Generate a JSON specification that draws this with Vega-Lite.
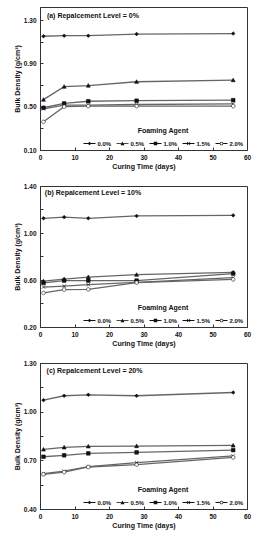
{
  "$schema": "https://vega.github.io/schema/vega-lite/v6.json",
  "background": "white",
  "padding": {"left": 12, "top": 6, "right": 5, "bottom": 3},
  "spacing": 12,
  "data": {"values": [
    {"p":"a","agent":"0.0%","day":1,"d":1.150},{"p":"a","agent":"0.0%","day":7,"d":1.155},{"p":"a","agent":"0.0%","day":14,"d":1.155},{"p":"a","agent":"0.0%","day":28,"d":1.170},{"p":"a","agent":"0.0%","day":56,"d":1.175},
    {"p":"a","agent":"0.5%","day":1,"d":0.565},{"p":"a","agent":"0.5%","day":7,"d":0.685},{"p":"a","agent":"0.5%","day":14,"d":0.695},{"p":"a","agent":"0.5%","day":28,"d":0.730},{"p":"a","agent":"0.5%","day":56,"d":0.745},
    {"p":"a","agent":"1.0%","day":1,"d":0.490},{"p":"a","agent":"1.0%","day":7,"d":0.530},{"p":"a","agent":"1.0%","day":14,"d":0.550},{"p":"a","agent":"1.0%","day":28,"d":0.555},{"p":"a","agent":"1.0%","day":56,"d":0.560},
    {"p":"a","agent":"1.5%","day":1,"d":0.480},{"p":"a","agent":"1.5%","day":7,"d":0.515},{"p":"a","agent":"1.5%","day":14,"d":0.515},{"p":"a","agent":"1.5%","day":28,"d":0.520},{"p":"a","agent":"1.5%","day":56,"d":0.525},
    {"p":"a","agent":"2.0%","day":1,"d":0.360},{"p":"a","agent":"2.0%","day":7,"d":0.500},{"p":"a","agent":"2.0%","day":14,"d":0.505},{"p":"a","agent":"2.0%","day":28,"d":0.505},{"p":"a","agent":"2.0%","day":56,"d":0.505},
    {"p":"b","agent":"0.0%","day":1,"d":1.125},{"p":"b","agent":"0.0%","day":7,"d":1.135},{"p":"b","agent":"0.0%","day":14,"d":1.125},{"p":"b","agent":"0.0%","day":28,"d":1.145},{"p":"b","agent":"0.0%","day":56,"d":1.150},
    {"p":"b","agent":"0.5%","day":1,"d":0.590},{"p":"b","agent":"0.5%","day":7,"d":0.608},{"p":"b","agent":"0.5%","day":14,"d":0.625},{"p":"b","agent":"0.5%","day":28,"d":0.645},{"p":"b","agent":"0.5%","day":56,"d":0.665},
    {"p":"b","agent":"1.0%","day":1,"d":0.575},{"p":"b","agent":"1.0%","day":7,"d":0.595},{"p":"b","agent":"1.0%","day":14,"d":0.595},{"p":"b","agent":"1.0%","day":28,"d":0.595},{"p":"b","agent":"1.0%","day":56,"d":0.655},
    {"p":"b","agent":"1.5%","day":1,"d":0.540},{"p":"b","agent":"1.5%","day":7,"d":0.548},{"p":"b","agent":"1.5%","day":14,"d":0.560},{"p":"b","agent":"1.5%","day":28,"d":0.580},{"p":"b","agent":"1.5%","day":56,"d":0.620},
    {"p":"b","agent":"2.0%","day":1,"d":0.490},{"p":"b","agent":"2.0%","day":7,"d":0.518},{"p":"b","agent":"2.0%","day":14,"d":0.520},{"p":"b","agent":"2.0%","day":28,"d":0.578},{"p":"b","agent":"2.0%","day":56,"d":0.605},
    {"p":"c","agent":"0.0%","day":1,"d":1.071},{"p":"c","agent":"0.0%","day":7,"d":1.098},{"p":"c","agent":"0.0%","day":14,"d":1.104},{"p":"c","agent":"0.0%","day":28,"d":1.098},{"p":"c","agent":"0.0%","day":56,"d":1.118},
    {"p":"c","agent":"0.5%","day":1,"d":0.767},{"p":"c","agent":"0.5%","day":7,"d":0.780},{"p":"c","agent":"0.5%","day":14,"d":0.786},{"p":"c","agent":"0.5%","day":28,"d":0.788},{"p":"c","agent":"0.5%","day":56,"d":0.792},
    {"p":"c","agent":"1.0%","day":1,"d":0.722},{"p":"c","agent":"1.0%","day":7,"d":0.731},{"p":"c","agent":"1.0%","day":14,"d":0.743},{"p":"c","agent":"1.0%","day":28,"d":0.749},{"p":"c","agent":"1.0%","day":56,"d":0.763},
    {"p":"c","agent":"1.5%","day":1,"d":0.618},{"p":"c","agent":"1.5%","day":7,"d":0.633},{"p":"c","agent":"1.5%","day":14,"d":0.661},{"p":"c","agent":"1.5%","day":28,"d":0.686},{"p":"c","agent":"1.5%","day":56,"d":0.727},
    {"p":"c","agent":"2.0%","day":1,"d":0.614},{"p":"c","agent":"2.0%","day":7,"d":0.627},{"p":"c","agent":"2.0%","day":14,"d":0.659},{"p":"c","agent":"2.0%","day":28,"d":0.673},{"p":"c","agent":"2.0%","day":56,"d":0.718}
  ]},
  "resolve": {"scale": {"shape": "independent", "fill": "independent"}, "legend": {"shape": "independent"}},
  "vconcat": [
    {
      "width": 207, "height": 143,
      "transform": [{"filter": "datum.p == 'a'"}],
      "resolve": {"scale": {"shape": "independent"}, "legend": {"shape": "independent"}},
      "encoding": {
        "x": {"field": "day", "type": "quantitative", "scale": {"domain": [0, 60]}, "axis": {"values": [0,10,20,30,40,50,60], "title": "Curing Time (days)"}},
        "y": {"field": "d", "type": "quantitative", "scale": {"domain": [0.1, 1.42], "nice": false, "zero": false},
              "axis": {"values": [0.1,0.3,0.5,0.7,0.9,1.1,1.3], "labelExpr": "round(datum.value*10) % 4 == 1 ? format(datum.value, '.2f') : ''", "title": "Bulk Density (g/cm³)"}}
      },
      "layer": [
        {"mark": {"type": "line", "color": "#666", "strokeWidth": 1.3}, "encoding": {"detail": {"field": "agent"}}},
        {"mark": {"type": "point", "filled": true, "color": "#111", "size": 144, "opacity": 0},
         "encoding": {
           "shape": {"field": "agent", "type": "nominal", "scale": {"domain": ["0.0%","0.5%","1.0%","1.5%","2.0%"], "range": ["M-1,-0.08H1V0.08H-1ZM0,-0.3L0.3,0L0,0.3L-0.3,0Z","M-1,-0.08H1V0.08H-1ZM0,-0.34L0.34,0.27L-0.34,0.27Z","M-1,-0.08H1V0.08H-1ZM-0.3,-0.3H0.3V0.3H-0.3Z","M-1,-0.08H1V0.08H-1ZM-0.3,-0.22L-0.22,-0.3L0.3,0.22L0.22,0.3ZM-0.3,0.22L0.22,-0.3L0.3,-0.22L-0.22,0.3Z","M-1,-0.08H-0.3V0.08H-1ZM0.3,-0.08H1V0.08H0.3ZM-0.3,0A0.3,0.3 0 1,0 0.3,0A0.3,0.3 0 1,0 -0.3,0ZM-0.19,0A0.19,0.19 0 1,1 0.19,0A0.19,0.19 0 1,1 -0.19,0Z"]},
             "legend": {"title": "Foaming Agent", "encode": {"symbols": {"opacity": {"value": 1}, "stroke": {"value": "#222"}, "strokeWidth": {"value": 0.8}, "size": {"value": 144}}}}}
         }},
        {"mark": {"type": "point", "filled": true, "size": 13, "stroke": "#111", "strokeWidth": 0.6, "opacity": 1},
         "encoding": {
           "shape": {"field": "agent", "type": "nominal", "scale": {"domain": ["0.0%","0.5%","1.0%","1.5%","2.0%"], "range": ["M0,-1L1,0L0,1L-1,0Z","M0,-1.1L1.1,0.9L-1.1,0.9Z","M-1,-1H1V1H-1Z","M-1,-1L1,1M-1,1L1,-1","M-1,0A1,1 0 1,0 1,0A1,1 0 1,0 -1,0Z"]}, "legend": null},
           "fill": {"field": "agent", "type": "nominal", "scale": {"domain": ["0.0%","0.5%","1.0%","1.5%","2.0%"], "range": ["#111","#111","#111","#111","white"]}, "legend": null}
         }},
        {"transform": [{"filter": "datum.day == 1 && datum.agent == '0.0%'"}], "mark": {"type": "text", "align": "left", "baseline": "middle", "fontSize": 7, "fontWeight": "bold", "color": "#111"},
         "encoding": {"x": {"datum": 2.0}, "y": {"datum": 1.337}, "text": {"value": "(a) Repalcement Level = 0%"}}}
      ]
    },
    {
      "width": 207, "height": 141,
      "transform": [{"filter": "datum.p == 'b'"}],
      "resolve": {"scale": {"shape": "independent"}, "legend": {"shape": "independent"}},
      "encoding": {
        "x": {"field": "day", "type": "quantitative", "scale": {"domain": [0, 60]}, "axis": {"values": [0,10,20,30,40,50,60], "title": "Curing Time (days)"}},
        "y": {"field": "d", "type": "quantitative", "scale": {"domain": [0.2, 1.4], "nice": false, "zero": false},
              "axis": {"values": [0.2,0.4,0.6,0.8,1.0,1.2,1.4], "labelExpr": "round(datum.value*10) % 4 == 2 ? format(datum.value, '.2f') : ''", "title": "Bulk Density (g/cm³)"}}
      },
      "layer": [
        {"mark": {"type": "line", "color": "#666", "strokeWidth": 1.3}, "encoding": {"detail": {"field": "agent"}}},
        {"mark": {"type": "point", "filled": true, "color": "#111", "size": 144, "opacity": 0},
         "encoding": {
           "shape": {"field": "agent", "type": "nominal", "scale": {"domain": ["0.0%","0.5%","1.0%","1.5%","2.0%"], "range": ["M-1,-0.08H1V0.08H-1ZM0,-0.3L0.3,0L0,0.3L-0.3,0Z","M-1,-0.08H1V0.08H-1ZM0,-0.34L0.34,0.27L-0.34,0.27Z","M-1,-0.08H1V0.08H-1ZM-0.3,-0.3H0.3V0.3H-0.3Z","M-1,-0.08H1V0.08H-1ZM-0.3,-0.22L-0.22,-0.3L0.3,0.22L0.22,0.3ZM-0.3,0.22L0.22,-0.3L0.3,-0.22L-0.22,0.3Z","M-1,-0.08H-0.3V0.08H-1ZM0.3,-0.08H1V0.08H0.3ZM-0.3,0A0.3,0.3 0 1,0 0.3,0A0.3,0.3 0 1,0 -0.3,0ZM-0.19,0A0.19,0.19 0 1,1 0.19,0A0.19,0.19 0 1,1 -0.19,0Z"]},
             "legend": {"title": "Foaming Agent", "encode": {"symbols": {"opacity": {"value": 1}, "stroke": {"value": "#222"}, "strokeWidth": {"value": 0.8}, "size": {"value": 144}}}}}
         }},
        {"mark": {"type": "point", "filled": true, "size": 13, "stroke": "#111", "strokeWidth": 0.6, "opacity": 1},
         "encoding": {
           "shape": {"field": "agent", "type": "nominal", "scale": {"domain": ["0.0%","0.5%","1.0%","1.5%","2.0%"], "range": ["M0,-1L1,0L0,1L-1,0Z","M0,-1.1L1.1,0.9L-1.1,0.9Z","M-1,-1H1V1H-1Z","M-1,-1L1,1M-1,1L1,-1","M-1,0A1,1 0 1,0 1,0A1,1 0 1,0 -1,0Z"]}, "legend": null},
           "fill": {"field": "agent", "type": "nominal", "scale": {"domain": ["0.0%","0.5%","1.0%","1.5%","2.0%"], "range": ["#111","#111","#111","#111","white"]}, "legend": null}
         }},
        {"transform": [{"filter": "datum.day == 1 && datum.agent == '0.0%'"}], "mark": {"type": "text", "align": "left", "baseline": "middle", "fontSize": 7, "fontWeight": "bold", "color": "#111"},
         "encoding": {"x": {"datum": 1.4}, "y": {"datum": 1.343}, "text": {"value": "(b) Repalcement Level = 10%"}}}
      ]
    },
    {
      "width": 207, "height": 146,
      "transform": [{"filter": "datum.p == 'c'"}],
      "resolve": {"scale": {"shape": "independent"}, "legend": {"shape": "independent"}},
      "encoding": {
        "x": {"field": "day", "type": "quantitative", "scale": {"domain": [0, 60]}, "axis": {"values": [0,10,20,30,40,50,60], "title": "Curing Time (days)"}},
        "y": {"field": "d", "type": "quantitative", "scale": {"domain": [0.4, 1.3], "nice": false, "zero": false},
              "axis": {"values": [0.4,0.55,0.7,0.85,1.0,1.15,1.3], "labelExpr": "round(datum.value*100) % 30 == 10 ? format(datum.value, '.2f') : ''", "title": "Bulk Density (g/cm³)"}}
      },
      "layer": [
        {"mark": {"type": "line", "color": "#666", "strokeWidth": 1.3}, "encoding": {"detail": {"field": "agent"}}},
        {"mark": {"type": "point", "filled": true, "color": "#111", "size": 144, "opacity": 0},
         "encoding": {
           "shape": {"field": "agent", "type": "nominal", "scale": {"domain": ["0.0%","0.5%","1.0%","1.5%","2.0%"], "range": ["M-1,-0.08H1V0.08H-1ZM0,-0.3L0.3,0L0,0.3L-0.3,0Z","M-1,-0.08H1V0.08H-1ZM0,-0.34L0.34,0.27L-0.34,0.27Z","M-1,-0.08H1V0.08H-1ZM-0.3,-0.3H0.3V0.3H-0.3Z","M-1,-0.08H1V0.08H-1ZM-0.3,-0.22L-0.22,-0.3L0.3,0.22L0.22,0.3ZM-0.3,0.22L0.22,-0.3L0.3,-0.22L-0.22,0.3Z","M-1,-0.08H-0.3V0.08H-1ZM0.3,-0.08H1V0.08H0.3ZM-0.3,0A0.3,0.3 0 1,0 0.3,0A0.3,0.3 0 1,0 -0.3,0ZM-0.19,0A0.19,0.19 0 1,1 0.19,0A0.19,0.19 0 1,1 -0.19,0Z"]},
             "legend": {"title": "Foaming Agent", "encode": {"symbols": {"opacity": {"value": 1}, "stroke": {"value": "#222"}, "strokeWidth": {"value": 0.8}, "size": {"value": 144}}}}}
         }},
        {"mark": {"type": "point", "filled": true, "size": 13, "stroke": "#111", "strokeWidth": 0.6, "opacity": 1},
         "encoding": {
           "shape": {"field": "agent", "type": "nominal", "scale": {"domain": ["0.0%","0.5%","1.0%","1.5%","2.0%"], "range": ["M0,-1L1,0L0,1L-1,0Z","M0,-1.1L1.1,0.9L-1.1,0.9Z","M-1,-1H1V1H-1Z","M-1,-1L1,1M-1,1L1,-1","M-1,0A1,1 0 1,0 1,0A1,1 0 1,0 -1,0Z"]}, "legend": null},
           "fill": {"field": "agent", "type": "nominal", "scale": {"domain": ["0.0%","0.5%","1.0%","1.5%","2.0%"], "range": ["#111","#111","#111","#111","white"]}, "legend": null}
         }},
        {"transform": [{"filter": "datum.day == 1 && datum.agent == '0.0%'"}], "mark": {"type": "text", "align": "left", "baseline": "middle", "fontSize": 7, "fontWeight": "bold", "color": "#111"},
         "encoding": {"x": {"datum": 1.9}, "y": {"datum": 1.249}, "text": {"value": "(c) Repalcement Level = 20%"}}}
      ]
    }
  ],
  "config": {
    "font": "Liberation Sans",
    "view": {"stroke": "#333", "strokeWidth": 1},
    "axis": {"grid": false, "domainColor": "#333", "tickColor": "#333", "tickSize": -3, "labelPadding": 7, "labelFontSize": 6.5, "labelFontWeight": "bold", "labelColor": "#111", "titleFontSize": 7, "titleFontWeight": "bold", "titleColor": "#111", "labelFlush": false},
    "axisX": {"titlePadding": 2},
    "axisY": {"titlePadding": 3},
    "legend": {
      "orient": "bottom-right", "direction": "horizontal", "offset": 3, "padding": 0,
      "titleFontSize": 7, "titleFontWeight": "bold", "titleColor": "#111", "titleAnchor": "middle", "titlePadding": 3,
      "labelFontSize": 6, "labelFontWeight": "bold", "labelColor": "#111", "labelOffset": 1.5,
      "columnPadding": 2, "symbolSize": 144, "symbolStrokeWidth": 0.8, "symbolOpacity": 1,
      "symbolStrokeColor": "#222"
    }
  }
}
